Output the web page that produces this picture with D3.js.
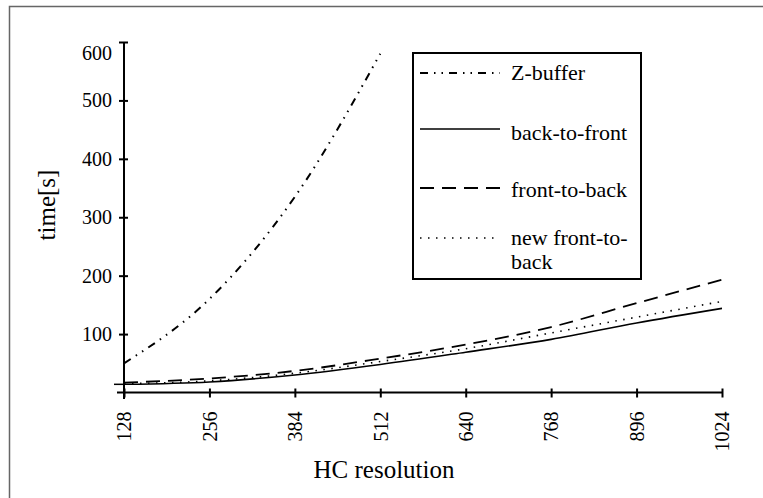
<!doctype html>
<html>
<head>
<meta charset="utf8">
<title>HC resolution vs time</title>
<script src="https://cdn.jsdelivr.net/npm/d3@7"></script>
<style>
  body { margin: 0; background: #fff; }
  svg text { font-family: "Liberation Serif", "Times New Roman", "DejaVu Serif", serif; }
</style>
</head>
<body>
<div id="board"></div>
<script>
"use strict";
// resolutions on the x axis
const resolutions = [128, 256, 384, 512, 640, 768, 896, 1024];
// times in seconds
const zBuffer     = [50, 160, 335, 580];            // only up to 512
const backToFront = [14, 18, 30, 48, 69, 91, 119, 144];
const frontToBack = [17, 24, 37, 58, 82, 112, 153, 193];
const newFrontToBack = [15, 20, 33, 53, 75, 102, 129, 156];
const yTicks = [100, 200, 300, 400, 500, 600];
const yMinorTick = 14;  // unlabeled tick just above the x axis

const seriesNames = ["Z-buffer", "back-to-front", "front-to-back", "new front-to-back"];
const dashes = ["8,6,1.5,6,1.5,6", null, "14,8", "1.5,6.5"];
const widths = [2, 1.6, 1.8, 1.6];

const W = 763, H = 498;
const svg = d3.select("#board").append("svg").attr("width", W).attr("height", H);

// outer frame (right/bottom edges fall outside the picture)
svg.append("rect").attr("x", 9.5).attr("y", 6.5).attr("width", 800).attr("height", 600)
   .attr("fill", "none").attr("stroke", "#666").attr("stroke-width", 1.5);

const x = d3.scaleLinear().domain([128, 1024]).range([124, 722]);
const y = d3.scaleLinear().domain([0, 600]).range([392.5, 42]);

// y axis
const yAxis = svg.append("g").attr("transform", "translate(124,0)")
  .call(d3.axisLeft(y).tickValues(yTicks).tickSize(5).tickPadding(7));
yAxis.attr("font-family", null);
yAxis.select(".domain").remove();
yAxis.selectAll(".tick line").attr("x1", 4).attr("stroke-width", 2);
yAxis.selectAll(".tick text").attr("font-size", 20).attr("fill", "#000");
yAxis.selectAll(".tick").filter(d => d === 600).select("text").attr("y", 11);
svg.append("line").attr("x1", 124).attr("x2", 124).attr("y1", 42).attr("y2", 399)
   .attr("stroke", "#000").attr("stroke-width", 2);
svg.append("line").attr("x1", 114).attr("x2", 124).attr("y1", y(yMinorTick)).attr("y2", y(yMinorTick))
   .attr("stroke", "#000").attr("stroke-width", 1.5);

// x axis
const xAxis = svg.append("g").attr("transform", "translate(0," + y(0) + ")")
  .call(d3.axisBottom(x).tickValues(resolutions).tickFormat(d3.format("d")).tickSize(5));
xAxis.attr("font-family", null);
xAxis.select(".domain").remove();
xAxis.selectAll(".tick line").attr("y1", -4).attr("stroke-width", 2);
xAxis.selectAll(".tick text")
  .attr("font-size", 20).attr("fill", "#000")
  .attr("transform", "rotate(-90)")
  .attr("text-anchor", "end")
  .attr("x", -19).attr("y", 0).attr("dy", "0.34em");
svg.append("line").attr("x1", 117).attr("x2", 722).attr("y1", y(0)).attr("y2", y(0))
   .attr("stroke", "#000").attr("stroke-width", 2);

// axis titles
svg.append("text").attr("transform", "translate(55,205) rotate(-90)")
   .attr("text-anchor", "middle").attr("font-size", 25).text("time[s]");
svg.append("text").attr("x", 384).attr("y", 478)
   .attr("text-anchor", "middle").attr("font-size", 25).text("HC resolution");

// series
const line = d3.line().x(d => x(d[0])).y(d => y(d[1])).curve(d3.curveMonotoneX);
const allSeries = [zBuffer, backToFront, frontToBack, newFrontToBack];
allSeries.forEach((vals, i) => {
  const pts = vals.map((v, j) => [resolutions[j], v]);
  svg.append("path").datum(pts).attr("d", line)
     .attr("fill", "none").attr("stroke", "#000")
     .attr("stroke-width", widths[i])
     .attr("stroke-dasharray", dashes[i]);
});

// legend
const lg = svg.append("g");
lg.append("rect").attr("x", 413).attr("y", 53).attr("width", 228).attr("height", 226)
  .attr("fill", "#fff").attr("stroke", "#000").attr("stroke-width", 2);
const legendY = [73, 129, 188, 238];
seriesNames.forEach((name, i) => {
  lg.append("line").attr("x1", 420).attr("x2", 500)
    .attr("y1", legendY[i]).attr("y2", legendY[i])
    .attr("stroke", "#000").attr("stroke-width", widths[i])
    .attr("stroke-dasharray", dashes[i]);
});
const legendText = lg.append("g").attr("font-size", 22).attr("fill", "#000");
legendText.append("text").attr("x", 511).attr("y", 80).text("Z-buffer");
legendText.append("text").attr("x", 511).attr("y", 140).text("back-to-front");
legendText.append("text").attr("x", 511).attr("y", 197).text("front-to-back");
legendText.append("text").attr("x", 511).attr("y", 245).text("new front-to-");
legendText.append("text").attr("x", 511).attr("y", 269).text("back");
</script>
</body>
</html>
